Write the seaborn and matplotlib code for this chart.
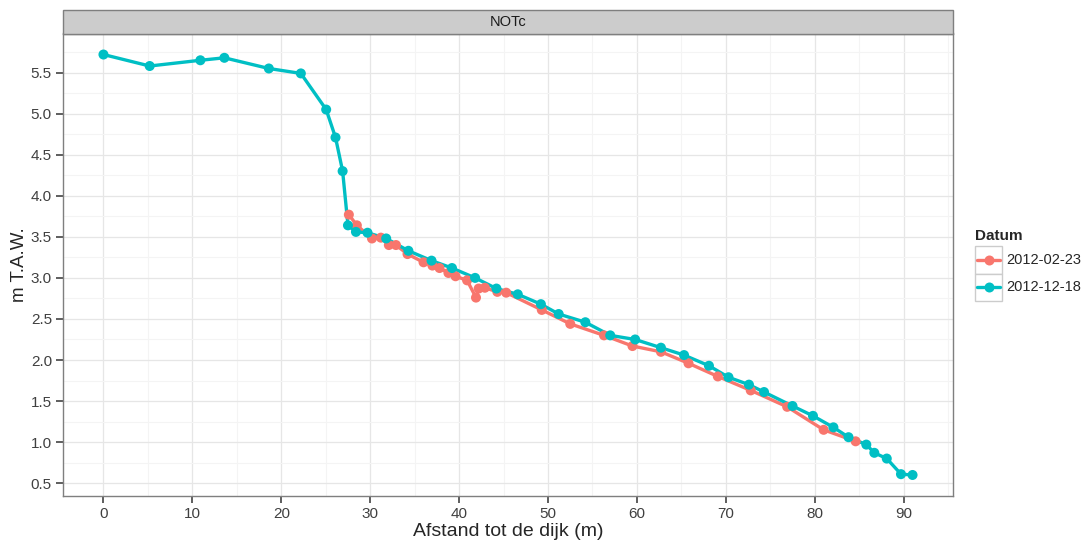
import matplotlib
matplotlib.use("Agg")
import matplotlib.pyplot as plt
import seaborn as sns
import pandas as pd
from matplotlib.lines import Line2D
from matplotlib.patches import Rectangle
from matplotlib.ticker import MultipleLocator

# profiel NOTc, twee opnames
datums = ["2012-02-23", "2012-12-18"]
kleuren = ["#F8766D", "#00BFC4"]

afstand_feb = [27.6, 28.5, 30.2, 31.2, 32.1, 32.9, 34.2, 36.0, 37.0, 37.8,
               38.8, 39.6, 40.9, 41.9, 42.2, 42.9, 44.3, 45.3, 49.3, 52.5,
               56.3, 59.5, 62.7, 65.8, 69.1, 72.8, 76.9, 81.0, 84.6]
hoogte_feb = [3.77, 3.64, 3.48, 3.49, 3.40, 3.40, 3.29, 3.19, 3.15, 3.12,
              3.06, 3.02, 2.97, 2.76, 2.87, 2.88, 2.83, 2.82, 2.61, 2.44,
              2.30, 2.17, 2.10, 1.96, 1.80, 1.63, 1.43, 1.15, 1.01]

afstand_dec = [0.0, 5.2, 10.9, 13.6, 18.6, 22.2, 25.05, 26.1, 26.9, 27.5,
               28.4, 29.7, 31.8, 34.3, 36.9, 39.2, 41.8, 44.2, 46.6, 49.2,
               51.2, 54.2, 57.0, 59.8, 62.7, 65.3, 68.1, 70.3, 72.6, 74.3,
               77.5, 79.8, 82.1, 83.8, 85.8, 86.7, 88.1, 89.7, 91.0]
hoogte_dec = [5.72, 5.58, 5.65, 5.68, 5.55, 5.49, 5.05, 4.71, 4.30, 3.64,
              3.56, 3.55, 3.48, 3.33, 3.21, 3.12, 3.00, 2.87, 2.80, 2.68,
              2.56, 2.46, 2.30, 2.25, 2.15, 2.06, 1.93, 1.79, 1.70, 1.61,
              1.44, 1.32, 1.18, 1.06, 0.97, 0.87, 0.80, 0.61, 0.60]

df = pd.concat([
    pd.DataFrame({"afstand": afstand_feb, "hoogte": hoogte_feb, "Datum": datums[0]}),
    pd.DataFrame({"afstand": afstand_dec, "hoogte": hoogte_dec, "Datum": datums[1]}),
], ignore_index=True)

sns.set_style("white")
plt.rcParams["font.family"] = ["Liberation Sans", "DejaVu Sans"]

fig = plt.figure(figsize=(10.86, 5.44), dpi=100)
W, H = 1086, 544
ax = fig.add_axes([63 / W, 1 - 496 / H, (953 - 63) / W, (496 - 33.5) / H])

pal = dict(zip(datums, kleuren))
sns.lineplot(data=df, x="afstand", y="hoogte", hue="Datum", palette=pal,
             estimator=None, sort=True, linewidth=2.4, legend=False, ax=ax)
sns.scatterplot(data=df, x="afstand", y="hoogte", hue="Datum", palette=pal,
                s=52, linewidth=0, legend=False, ax=ax, zorder=3)

# ggplot-achtige schaal met 5% marge
xmin, xmax = 0, 91
ymin, ymax = min(df.hoogte), max(df.hoogte)
ax.set_xlim(xmin - 0.05 * (xmax - xmin), xmax + 0.05 * (xmax - xmin))
ax.set_ylim(ymin - 0.05 * (ymax - ymin), ymax + 0.05 * (ymax - ymin))
ax.xaxis.set_major_locator(MultipleLocator(10))
ax.xaxis.set_minor_locator(MultipleLocator(5))
ax.yaxis.set_major_locator(MultipleLocator(0.5))
ax.yaxis.set_minor_locator(MultipleLocator(0.25))
ax.set_yticks([0.5 + 0.5 * i for i in range(11)])
ax.set_yticklabels([f"{0.5 + 0.5 * i:.1f}" for i in range(11)])
ax.grid(True, which="major", color="#E6E6E6", linewidth=0.9)
ax.grid(True, which="minor", color="#F4F4F4", linewidth=0.8)
ax.set_axisbelow(True)
ax.tick_params(which="major", direction="out", length=5, width=1.1,
               color="#333333", labelsize=11, labelcolor="#404040", pad=3,
               bottom=True, left=True)
ax.tick_params(which="minor", length=0)
for s in ax.spines.values():
    s.set_color("#7F7F7F")
    s.set_linewidth(1.0)

ax.set_xlabel("Afstand tot de dijk (m)", fontsize=14, labelpad=1)
ax.set_ylabel("m T.A.W.", fontsize=13.5)
ax.yaxis.set_label_coords(-0.039, 0.5)

# facetstrook
fig.add_artist(Rectangle((63 / W, 1 - 33.5 / H), (953 - 63) / W, 23.5 / H,
                         transform=fig.transFigure, facecolor="#CCCCCC",
                         edgecolor="#7F7F7F", linewidth=1.0))
fig.text(508 / W, 1 - 22 / H, "NOTc", ha="center", va="center",
         fontsize=10.5, color="#1A1A1A")

# legenda
fig.text(975 / W, 1 - 236 / H, "Datum", ha="left", va="center",
         fontsize=11, fontweight="bold")
for i, (d, c) in enumerate(zip(datums, kleuren)):
    top = 246 + i * 27.5
    fig.add_artist(Rectangle((975 / W, 1 - (top + 27.5) / H), 27 / W, 27.5 / H,
                             transform=fig.transFigure, facecolor="white",
                             edgecolor="#CCCCCC", linewidth=1.0))
    yc = 1 - (top + 13.75) / H
    fig.add_artist(Line2D([977 / W, 1000 / W], [yc, yc], transform=fig.transFigure,
                          color=c, linewidth=2.4))
    fig.add_artist(Line2D([988.5 / W], [yc], transform=fig.transFigure,
                          color=c, marker="o", markersize=7.2, markeredgewidth=0))
    fig.text(1006 / W, yc, d, ha="left", va="center", fontsize=10.5)

fig.savefig("out.png", dpi=100)
